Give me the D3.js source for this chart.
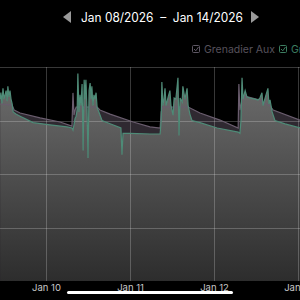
<!DOCTYPE html>
<html>
<head>
<meta charset="utf-8">
<script src="https://cdn.jsdelivr.net/npm/d3@7"></script>
<style>
  html, body { margin: 0; padding: 0; background: #000; overflow: hidden; }
  svg { display: block; font-family: Inter, "Open Sans", sans-serif; }
</style>
</head>
<body>
<script>
// hours counted from Jan 09 2026 00:00
var mainHours = [10.9, 11.1, 11.4, 11.7, 12.0, 12.3, 12.6, 12.9, 13.1, 13.4, 13.7, 14.0, 14.3, 14.6,
  15.4, 16.6, 20.3, 25.1, 30.0, 31.4, 31.7, 32.0, 32.3, 32.6, 32.9, 33.1, 33.4, 33.7, 34.0, 34.3,
  34.6, 34.9, 35.1, 35.4, 35.7, 36.0, 36.3, 36.6, 36.9, 37.1, 37.4, 37.7, 38.0, 38.3, 38.6, 39.1,
  40.0, 42.3, 45.4, 45.7, 46.0, 48.0, 53.7, 56.6, 56.9, 57.1, 57.4, 57.7, 58.0, 58.3, 58.9, 59.4,
  59.7, 60.3, 60.6, 61.1, 61.7, 62.0, 62.3, 62.9, 63.1, 63.7, 64.3, 64.6, 65.1, 65.7, 68.0, 72.9,
  78.9, 79.4, 79.7, 80.0, 80.3, 80.9, 81.4, 82.3, 83.7, 84.6, 85.1, 85.7, 86.0, 86.6, 87.4, 87.7,
  88.0, 88.6, 89.4, 92.3, 96.6];
var mainValues = [85, 88, 83, 90, 85, 87, 89, 84, 91, 86, 89, 85, 83, 79,
  78, 77, 74, 73, 72, 71.5, 70.5, 73, 76, 77, 80, 97, 79, 87, 82, 92,
  61, 94, 85, 94, 80, 57.5, 89, 92.5, 85, 91, 82, 87, 85, 88, 81, 79,
  75, 73.5, 71.5, 59, 69, 69, 68.7, 68.7, 75, 93, 82, 85, 90, 82, 86, 89,
  82, 77.5, 85.5, 85, 95, 68, 85.5, 83.6, 91, 85, 90, 82, 78, 75, 74, 71.5,
  69.6, 69, 75, 95, 85, 89, 86, 85.5, 85, 84.6, 85.5, 88, 82, 85.5, 90, 82.7,
  84.6, 79, 75, 73.4, 71.5];

var auxHours = [10.9, 14.3, 14.9, 16.6, 22.3, 28.0, 31.4, 31.7, 32.0, 32.3, 32.6, 38.6, 39.4,
  42.3, 48.9, 53.7, 56.6, 56.9, 57.4, 64.6, 68.0, 73.7, 78.9, 79.1, 79.4, 80.0, 80.9, 85.1,
  86.9, 88.0, 88.9, 96.6];
var auxValues = [82.7, 82.2, 79.9, 78.5, 76.2, 74.3, 72.4, 87.9, 77.6, 79.9, 81.3, 81.3, 79.9,
  78.0, 74.3, 72.0, 71.5, 79.0, 81.3, 81.3, 78.5, 75.2, 71.5, 92.1, 79.9, 84.6, 86.4, 84.6,
  82.7, 81.8, 79.9, 75.2];

var seriesNames = ['Grenadier Aux', 'Grenadier'];
var seriesColors = ['#6a5d6e', '#4e8b77'];
var dayTicks = ['2026-01-10', '2026-01-11', '2026-01-12', '2026-01-13'];
var yTicks = [0, 25, 50, 75, 100];
var rangeLabel = 'Jan 08/2026  \u2013  Jan 14/2026';

var W = 300, H = 300;
var plot = {left: 0, right: 300, top: 67, bottom: 281};

var base = new Date(2026, 0, 9, 0, 0);
function hourToDate(h) { return new Date(base.getTime() + h * 3600000); }

var mainData = mainHours.map(function(h, i) { return {t: hourToDate(h), v: mainValues[i]}; });
var auxData = auxHours.map(function(h, i) { return {t: hourToDate(h), v: auxValues[i]}; });

var x = d3.scaleTime()
  .domain([new Date(2026, 0, 9, 10, 51), new Date(2026, 0, 13, 0, 34)])
  .range([plot.left, plot.right]);
var y = d3.scaleLinear().domain([0, 100]).range([plot.bottom, plot.top]);

var svg = d3.select('body').append('svg')
  .attr('width', W).attr('height', H);

var defs = svg.append('defs');
var grad = defs.append('linearGradient').attr('id', 'mainFill')
  .attr('gradientUnits', 'userSpaceOnUse')
  .attr('x1', 0).attr('x2', 0).attr('y1', y(85)).attr('y2', plot.bottom);
grad.append('stop').attr('offset', 0).attr('stop-color', '#666666');
grad.append('stop').attr('offset', 1).attr('stop-color', '#2d2d2d');

defs.append('clipPath').attr('id', 'plotClip').append('rect')
  .attr('x', plot.left).attr('y', 0)
  .attr('width', plot.right - plot.left).attr('height', plot.bottom);

var chart = svg.append('g').attr('clip-path', 'url(#plotClip)');

var area = d3.area()
  .x(function(d) { return x(d.t); })
  .y0(y(0))
  .y1(function(d) { return y(d.v); });
var line = d3.line()
  .x(function(d) { return x(d.t); })
  .y(function(d) { return y(d.v); });

chart.append('path').datum(auxData)
  .attr('d', area).attr('fill', '#2f2931');
chart.append('path').datum(mainData)
  .attr('d', area).attr('fill', 'url(#mainFill)');

// grid
var gridColor = 'rgba(255,255,255,0.22)';
chart.selectAll('line.h').data(yTicks).enter().append('line')
  .attr('x1', plot.left).attr('x2', plot.right)
  .attr('y1', function(d) { return Math.round(y(d)) + 0.5; })
  .attr('y2', function(d) { return Math.round(y(d)) + 0.5; })
  .attr('stroke', gridColor).attr('stroke-width', 1);
chart.selectAll('line.v').data(dayTicks).enter().append('line')
  .attr('y1', plot.top).attr('y2', plot.bottom)
  .attr('x1', function(d) { return Math.round(x(d3.timeParse('%Y-%m-%d')(d))) + 0.5; })
  .attr('x2', function(d) { return Math.round(x(d3.timeParse('%Y-%m-%d')(d))) + 0.5; })
  .attr('stroke', gridColor).attr('stroke-width', 1);

chart.append('path').datum(auxData)
  .attr('d', line).attr('fill', 'none')
  .attr('stroke', seriesColors[0]).attr('stroke-width', 1.2);
chart.append('path').datum(mainData)
  .attr('d', line).attr('fill', 'none')
  .attr('stroke', seriesColors[1]).attr('stroke-width', 1.2);

// x axis labels
var xAxis = d3.axisBottom(x)
  .tickValues(dayTicks.map(d3.timeParse('%Y-%m-%d')))
  .tickFormat(d3.timeFormat('%b %d'))
  .tickSize(0).tickPadding(3);
var axisG = svg.append('g').attr('transform', 'translate(0,' + plot.bottom + ')').call(xAxis);
axisG.select('.domain').remove();
axisG.selectAll('text')
  .attr('fill', '#c8c8c8').attr('font-size', 9.5)
  .attr('font-family', 'Inter, sans-serif');

// header with range + arrows
svg.append('path').attr('d', 'M71,11 L63,17 L71,23 Z').attr('fill', '#9a9a9a');
svg.append('path').attr('d', 'M251,11 L259,17 L251,23 Z').attr('fill', '#9a9a9a');
svg.append('text').attr('x', 81).attr('y', 22)
  .attr('fill', '#ffffff')
  .attr('font-size', 12.5).style('white-space', 'pre')
  .attr('textLength', 162).attr('lengthAdjust', 'spacingAndGlyphs')
  .text(rangeLabel);

// legend
var legendX = [192, 279];
var legend = svg.selectAll('g.legend').data(seriesNames).enter().append('g')
  .attr('transform', function(d, i) { return 'translate(' + legendX[i] + ',45)'; });
legend.append('rect').attr('x', 0.5).attr('y', 0.5).attr('width', 7).attr('height', 7)
  .attr('rx', 1).attr('fill', 'none')
  .attr('stroke', function(d, i) { return i === 0 ? '#5f5865' : '#3c7d60'; });
legend.append('path').attr('d', 'M2,4 L3.8,5.8 L6.5,2')
  .attr('fill', 'none')
  .attr('stroke', function(d, i) { return i === 0 ? '#5f5865' : '#3c7d60'; });
legend.append('text').attr('x', 12).attr('y', 8)
  .attr('font-size', 10.5)
  .attr('fill', function(d, i) { return i === 0 ? '#57525c' : '#3c7d60'; })
  .text(function(d) { return d; });

// home indicator
svg.append('rect').attr('x', 67).attr('y', 291).attr('width', 166).attr('height', 3)
  .attr('rx', 1.5).attr('fill', '#ffffff');
</script>
</body>
</html>
